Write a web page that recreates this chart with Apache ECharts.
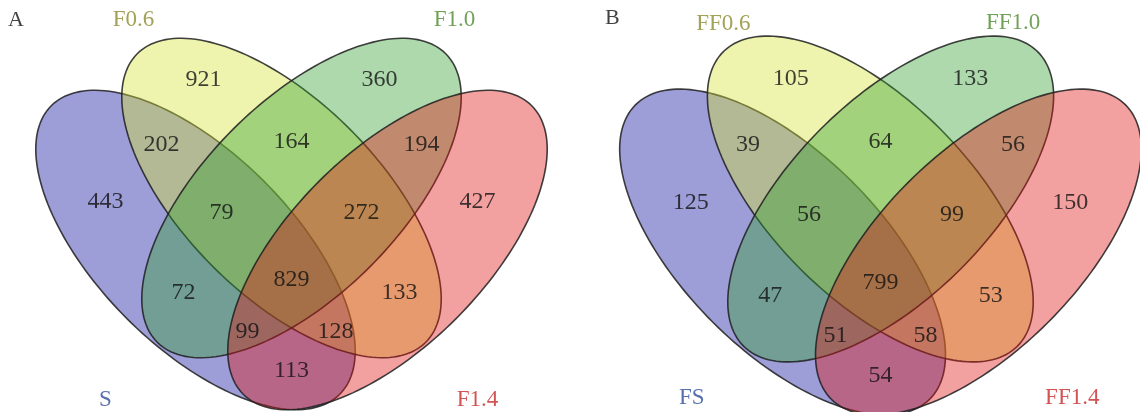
<!DOCTYPE html>
<html>
<head>
<meta charset="utf-8">
<script src="https://cdn.jsdelivr.net/npm/echarts@6/dist/echarts.min.js"></script>
<style>
  html, body { margin: 0; padding: 0; background: #fff; }
  #main { width: 1140px; height: 412px; }
</style>
</head>
<body>
<div id="main"></div>
<script>
// region order (membership of S, F0.6, F1.0, F1.4)
let regions = ['F0.6', 'F1.0', 'S+F0.6', 'F0.6+F1.0', 'F1.0+F1.4', 'S', 'S+F0.6+F1.0', 'F0.6+F1.0+F1.4',
  'F1.4', 'S+F1.0', 'all', 'F0.6+F1.4', 'S+F1.0+F1.4', 'S+F0.6+F1.4', 'S+F1.4'];
let countsA = [921, 360, 202, 164, 194, 443, 79, 272, 427, 72, 829, 133, 99, 128, 113];
let countsB = [105, 133, 39, 64, 56, 125, 56, 99, 150, 47, 799, 53, 51, 58, 54];
let setsA = ['S', 'F0.6', 'F1.0', 'F1.4'];
let setsB = ['FS', 'FF0.6', 'FF1.0', 'FF1.4'];

// layout of the 4-ellipse venn (units relative to the centre axis)
let ellipses = [[-96, 52, 45], [-10, 0, 45], [10, 0, -45], [96, 52, -45]];
let RA = 204, RB = 97;
let regionPos = [[-88, -118], [88, -118], [-130, -53], [0, -56], [130, -53], [-186, 4], [-70, 15], [70, 15],
  [186, 4], [-108, 95], [0, 82], [108, 95], [-44, 134], [44, 134], [0, 173]];
let fills = ['rgba(10,10,158,0.4)', 'rgba(212,225,50,0.4)', 'rgba(50,160,50,0.4)', 'rgba(222,20,18,0.4)'];
let nameColors = ['#2d4b9b', '#8c8a2c', '#4e8a2e', '#c8282a'];

let panels = [
  {letter: 'A', left: 0, ox: 291.5, oy: 198, k: 1, counts: countsA, sets: setsA,
    setPos: [[-186, 202], [-158, -178], [163, -178], [186, 202]], letterPos: [-275.5, -178]},
  {letter: 'B', left: 570, ox: 880.5, oy: 199, k: 1.02, counts: countsB, sets: setsB,
    setPos: [[-185, 195], [-154, -172], [130, -173], [188, 195]], letterPos: [-263, -177]}
];

let font = "'Liberation Serif', 'DejaVu Serif', serif";
let grid = [], xAxis = [], yAxis = [], series = [];

panels.forEach((p, i) => {
  grid.push({left: p.left, top: 0, width: 570, height: 412});
  xAxis.push({type: 'value', gridIndex: i, show: false,
    min: (p.left - p.ox) / p.k, max: (p.left + 570 - p.ox) / p.k});
  yAxis.push({type: 'value', gridIndex: i, show: false, inverse: true,
    min: (0 - p.oy) / p.k, max: (412 - p.oy) / p.k});

  series.push({
    type: 'custom', xAxisIndex: i, yAxisIndex: i, clip: false, silent: true,
    data: ellipses,
    renderItem: function (params, api) {
      let cx = api.value(0), cy = api.value(1), rot = api.value(2) * Math.PI / 180;
      let pts = [];
      for (let t = 0; t < 180; t++) {
        let a = t / 180 * Math.PI * 2;
        let x = RA * Math.cos(a), y = RB * Math.sin(a);
        pts.push(api.coord([cx + x * Math.cos(rot) - y * Math.sin(rot), cy + x * Math.sin(rot) + y * Math.cos(rot)]));
      }
      return {
        type: 'polygon', shape: {points: pts},
        style: {fill: fills[params.dataIndex], stroke: 'rgba(30,30,30,0.85)', lineWidth: 1.6}
      };
    }
  });

  series.push({
    type: 'scatter', xAxisIndex: i, yAxisIndex: i, symbolSize: 0, silent: true,
    data: regionPos.map((r, j) => [r[0], r[1], p.counts[j]]),
    label: {show: true, position: 'inside', formatter: d => d.value[2],
      fontFamily: font, fontSize: 24, color: '#111'}
  });

  series.push({
    type: 'scatter', xAxisIndex: i, yAxisIndex: i, symbolSize: 0, silent: true,
    data: p.setPos.map((s, j) => ({value: [s[0], s[1]], name: p.sets[j],
      label: {color: nameColors[j]}})).concat([{value: p.letterPos, name: p.letter, label: {color: '#111', fontSize: 22}}]),
    label: {show: true, position: 'inside', formatter: '{b}', fontFamily: font, fontSize: 23}
  });
});

let myChart = echarts.init(document.getElementById('main'));
let option = {animation: false, backgroundColor: '#fff', grid, xAxis, yAxis, series};
option && myChart.setOption(option);
</script>
</body>
</html>
